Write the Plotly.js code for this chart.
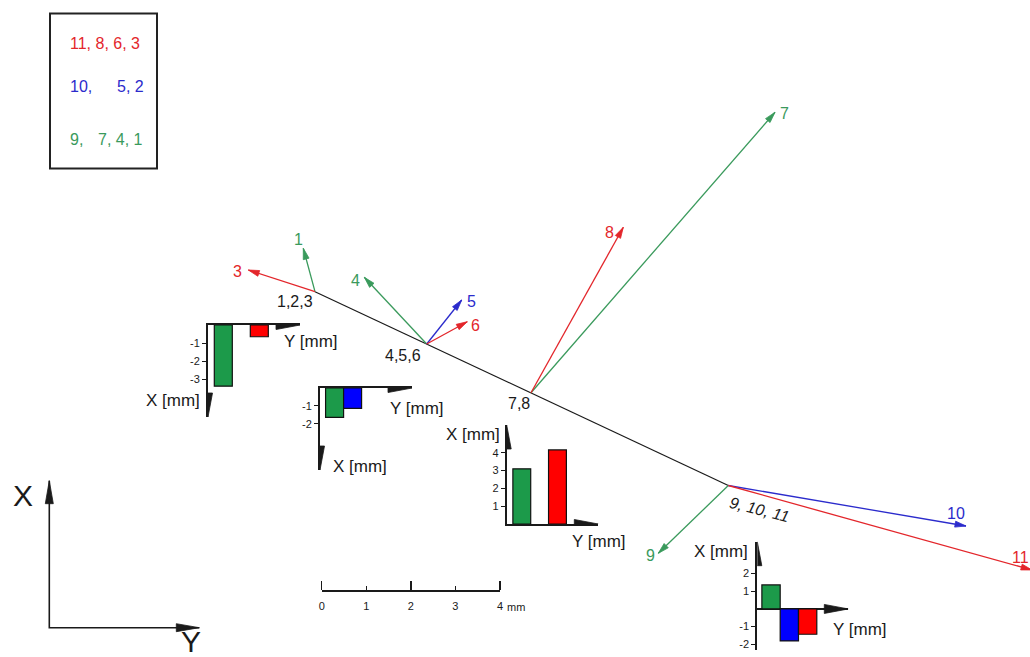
<!DOCTYPE html>
<html>
<head>
<meta charset="utf-8">
<script src="https://cdn.plot.ly/plotly-3.0.1.min.js"></script>
<style>
  html, body { margin: 0; padding: 0; background: #fff; }
  #chart { width: 1030px; height: 657px; }
</style>
</head>
<body>
<div id="chart"></div>
<script>
// drawing units: 1 unit = 1 px of the 1030x657 sheet, y grows downwards
var nodeX = [315, 426.7, 531, 728.3];
var nodeY = [291.7, 344, 392.7, 485.5];
var nodeNames = ['1,2,3', '4,5,6', '7,8', '<i>9, 10, 11</i>'];

// displacement vectors, drawn from their node
var vecNames = ['1', '3', '4', '5', '6', '7', '8', '9', '10', '11'];
var vecNode  = [0, 0, 1, 1, 1, 2, 2, 3, 3, 3];
var vecEndX  = [303.3, 248.3, 364.3, 461.7, 467.3, 775, 623.3, 658.3, 966, 1032];
var vecEndY  = [248.3, 270, 277.3, 300, 321.7, 112.3, 227.3, 553.3, 526, 570];
var vecGroup = ['g', 'r', 'g', 'b', 'r', 'g', 'r', 'g', 'b', 'r'];

// bar slots: green, blue, red  (values in mm)
var slots = [1, 2, 3];
var bars123 = [-3.39, null, -0.65];
var bars456 = [-1.63, -1.13, null];
var bars78 = [3.1, null, 4.16];
var bars91011 = [1.36, -1.81, -1.43];

var ticks123 = [-1, -2, -3];
var ticks456 = [-1, -2];
var ticks78 = [1, 2, 3, 4];
var ticks91011 = [2, 1, -1, -2];

var legendRows = [['11, 8, 6, 3'], ['10,', '5, 2'], ['9,', '7, 4, 1']];
var legendGroups = ['r', 'b', 'g'];

var scaleAll = [0, 1, 2, 3, 4];
var scaleMajor = [0, 2, 4];
var scaleMinor = [1, 3];

var W = 1030, H = 657;
var F = 'Liberation Sans, Arial, sans-serif';
var INK = '#1a1a1a';
var col = {g: '#3a9a5c', r: '#e3262b', b: '#2b2bcc'};
var barCol = ['#1c9a4a', '#0000ff', '#ff0000'];

// label placement
var vecLabelPos = [[298.3, 238], [237.3, 270.7], [355.7, 279], [471.7, 300], [475, 324],
                   [784, 112.3], [609, 231.7], [650, 554], [956, 512], [1020, 556]];
var nodeLabelPos = [[294.7, 300.5], [403, 354], [518.7, 402.5], [759, 508]];

var minis = [
  {vals: bars123, ticks: ticks123, px: [208, 300], py: [325, 417], xr: [0.15, 5.26], yr: [-5.1, 0], side: 'top',
   xt: [310.8, 341.7], yt: [172.5, 400]},
  {vals: bars456, ticks: ticks456, px: [320, 412], py: [388, 470], xr: [0.19, 5.3], yr: [-4.56, 0], side: 'top',
   xt: [417, 408.3], yt: [360.3, 466.7]},
  {vals: bars78, ticks: ticks78, px: [506.7, 598.3], py: [425, 524], xr: [0.154, 5.29], yr: [0, 5.56], side: 'bottom', up: true,
   xt: [599.3, 541.5], yt: [473.3, 434]},
  {vals: bars91011, ticks: ticks91011, px: [757.3, 848.3], py: [541.7, 650], xr: [0.25, 5.22], yr: [-2.32, 3.8], mid: true, up: true,
   xt: [860, 629], yt: [720.8, 551.7]}
];

function head(xref, yref, x, y, ux, uy, len, hw, color) {
  // ux, uy: direction on screen (y down)
  var bx = -ux * len, by = -uy * len, px = -uy * hw, py = ux * hw;
  var f = function (v) { return v.toFixed(2); };
  return {
    type: 'path', xref: xref, yref: yref, xsizemode: 'pixel', ysizemode: 'pixel',
    xanchor: x, yanchor: y, layer: 'above',
    path: 'M0,0L' + f(bx + px) + ',' + f(-(by + py)) + 'L' + f(bx - px) + ',' + f(-(by - py)) + 'Z',
    fillcolor: color, line: {color: color, width: 0.8}
  };
}

function txt(x, y, t, color, size, extra) {
  var a = {xref: 'x', yref: 'y', x: x, y: y, text: t, showarrow: false,
           font: {family: F, size: size, color: color}, xanchor: 'center', yanchor: 'middle'};
  for (var k in extra) a[k] = extra[k];
  return a;
}

var traces = [], shapes = [], annotations = [];

var layout = {
  width: W, height: H,
  margin: {l: 0, r: 0, t: 0, b: 0, pad: 0},
  paper_bgcolor: '#fff', plot_bgcolor: 'rgba(0,0,0,0)',
  showlegend: false,
  xaxis: {domain: [0, 1], range: [0, W], visible: false, fixedrange: true},
  yaxis: {domain: [0, 1], range: [H, 0], visible: false, fixedrange: true}
};

// the beam
traces.push({x: nodeX, y: nodeY, mode: 'lines', line: {color: INK, width: 1.2}, hoverinfo: 'skip'});

// vectors
vecNames.forEach(function (n, i) {
  var k = vecNode[i], c = col[vecGroup[i]];
  traces.push({x: [nodeX[k], vecEndX[i]], y: [nodeY[k], vecEndY[i]], mode: 'lines',
               line: {color: c, width: 1.3}, hoverinfo: 'skip'});
  var dx = vecEndX[i] - nodeX[k], dy = vecEndY[i] - nodeY[k], L = Math.hypot(dx, dy);
  shapes.push(head('x', 'y', vecEndX[i], vecEndY[i], dx / L, dy / L, 11, 3, c));
  annotations.push(txt(vecLabelPos[i][0], vecLabelPos[i][1] + 1, n, c, 16));
});

nodeNames.forEach(function (n, i) {
  var extra = i === 3 ? {textangle: 14} : {};
  annotations.push(txt(nodeLabelPos[i][0], nodeLabelPos[i][1] + 1, n, INK, 16, extra));
});

// reference frame, bottom left
var frameX = [49.3, 49.3, 199.3], frameY = [480.7, 627.7, 627.7];
traces.push({x: frameX, y: frameY, mode: 'lines', line: {color: INK, width: 1.6}, hoverinfo: 'skip'});
shapes.push(head('x', 'y', frameX[0], frameY[0], 0, -1, 23, 4, INK));
shapes.push(head('x', 'y', frameX[2], frameY[2], 1, 0, 23, 4, INK));
annotations.push(txt(22.5, 495, 'X', INK, 30));
annotations.push(txt(191, 641, 'Y', INK, 30));

// small bar charts
minis.forEach(function (m, i) {
  var n = i + 2;
  traces.push({type: 'bar', x: slots, y: m.vals, width: 1, xaxis: 'x' + n, yaxis: 'y' + n,
               marker: {color: barCol, line: {color: '#111', width: 1.2}}, hoverinfo: 'skip'});
  layout['xaxis' + n] = {domain: [m.px[0] / W, m.px[1] / W], range: m.xr, anchor: 'y' + n,
    side: m.side || 'bottom', showline: !m.mid, linecolor: INK, linewidth: 2,
    showgrid: false, zeroline: false, showticklabels: false, ticks: '', fixedrange: true};
  layout['yaxis' + n] = {domain: [1 - m.py[1] / H, 1 - m.py[0] / H], range: m.yr, anchor: 'x' + n,
    showline: true, linecolor: INK, linewidth: 2, showgrid: false,
    zeroline: !!m.mid, zerolinecolor: INK, zerolinewidth: 2,
    ticks: 'outside', ticklen: 4, tickwidth: 1, tickcolor: INK,
    tickmode: 'array', tickvals: m.ticks, ticktext: m.ticks.map(String),
    tickfont: {family: F, size: 11, color: INK}, fixedrange: true};
  shapes.push(head('x' + n, 'y' + n, m.xr[1], 0, 1, 0, 24, 4.5, INK));
  if (m.up) shapes.push(head('x' + n, 'y' + n, m.xr[0], m.yr[1], 0, -1, 24, 4.5, INK));
  else shapes.push(head('x' + n, 'y' + n, m.xr[0], m.yr[0], 0, 1, 24, 4.5, INK));
  annotations.push(txt(m.xt[0], m.xt[1], 'Y [mm]', INK, 17));
  annotations.push(txt(m.yt[0], m.yt[1], 'X [mm]', INK, 17));
});

// scale bar: line + upward ticks on the top side, labels on the bottom side
var scaleTick = {showgrid: false, zeroline: false, fixedrange: true, range: [0, 4], tickmode: 'array'};
layout.xaxis6 = Object.assign({}, scaleTick, {domain: [321.7 / W, 500 / W], anchor: 'y6', side: 'top',
  showline: true, linecolor: INK, linewidth: 1.5, showticklabels: false,
  ticks: 'outside', ticklen: 9, tickwidth: 1.5, tickcolor: INK, tickvals: scaleMajor});
layout.xaxis7 = Object.assign({}, scaleTick, {overlaying: 'x6', anchor: 'y6', side: 'top',
  showline: false, showticklabels: false,
  ticks: 'outside', ticklen: 5, tickwidth: 1.5, tickcolor: INK, tickvals: scaleMinor});
layout.xaxis8 = Object.assign({}, scaleTick, {overlaying: 'x6', anchor: 'y6', side: 'bottom',
  showline: false, ticks: '', tickvals: scaleAll, ticktext: scaleAll.map(String),
  tickfont: {family: F, size: 11, color: INK}, ticklabelstandoff: 5});
layout.yaxis6 = {domain: [1 - 592.5 / H, 1 - 591.7 / H], range: [0, 1], anchor: 'x6', visible: false, fixedrange: true};
traces.push({type: 'scatter', x: [], y: [], xaxis: 'x6', yaxis: 'y6', hoverinfo: 'skip'});
traces.push({type: 'scatter', x: [], y: [], xaxis: 'x7', yaxis: 'y6', hoverinfo: 'skip'});
traces.push({type: 'scatter', x: [], y: [], xaxis: 'x8', yaxis: 'y6', hoverinfo: 'skip'});
annotations.push(txt(505, 607, 'mm', INK, 11, {xanchor: 'left'}));

// legend box
shapes.push({type: 'rect', xref: 'x', yref: 'y', x0: 50, x1: 157, y0: 13.5, y1: 168.5,
             line: {color: '#222', width: 2}, layer: 'above'});
var legendY = [42.3, 85, 138.3];
var legendX = [[68, 0], [68, 115], [68, 96]];
legendRows.forEach(function (row, r) {
  row.forEach(function (t, j) {
    annotations.push(txt(legendX[r][j], legendY[r] + 1, t, col[legendGroups[r]], 16, {xanchor: 'left'}));
  });
});

layout.shapes = shapes;
layout.annotations = annotations;

Plotly.newPlot('chart', traces, layout, {staticPlot: true, displayModeBar: false});
</script>
</body>
</html>
